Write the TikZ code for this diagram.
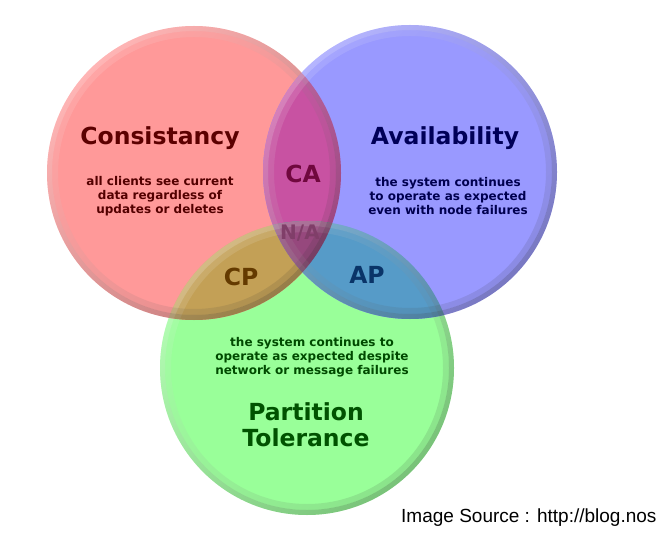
\documentclass[tikz,border=0pt]{standalone}
\usepackage{fontspec}
\setmainfont{DejaVu Sans}
\newfontfamily\srcfont{Liberation Sans}
\usetikzlibrary{positioning}

\definecolor{fillC}{RGB}{255,153,153}
\definecolor{fillA}{RGB}{153,153,255}
\definecolor{fillP}{RGB}{153,255,153}
\definecolor{fillCA}{RGB}{200,82,162}
\definecolor{fillCP}{RGB}{195,160,86}
\definecolor{fillAP}{RGB}{86,155,200}
\definecolor{fillNA}{RGB}{150,72,125}
\definecolor{inkC}{RGB}{92,0,0}
\definecolor{inkA}{RGB}{0,0,88}
\definecolor{inkP}{RGB}{0,82,0}
\definecolor{inkCA}{RGB}{112,8,62}
\definecolor{inkNA}{RGB}{128,62,105}
\definecolor{inkCP}{RGB}{100,58,0}
\definecolor{inkAP}{RGB}{10,52,104}

\begin{document}
\begin{tikzpicture}[x=1pt, y=-1pt,
    title/.style={font=\fontsize{23.5}{26}\selectfont\bfseries, align=center, inner sep=0pt},
    blurb/.style={font=\fontsize{12}{14}\selectfont\bfseries, align=center, inner sep=0pt},
    rim/.style={even odd rule, top color=white, bottom color=black!85, shading angle=45}
]
    \useasboundingbox (0,0) rectangle (658,537);

    % CIRCLE CENTRES
    \coordinate (cC) at (194,173);
    \coordinate (cA) at (410,172);
    \coordinate (cP) at (307,368);

    % FILLS
    \fill[fillP] (cP) circle[radius=147];
    \fill[fillC] (cC) circle[radius=147];
    \fill[fillA] (cA) circle[radius=147];
    \begin{scope}
        \clip (cC) circle[radius=147];
        \fill[fillCA] (cA) circle[radius=147];
        \fill[fillCP] (cP) circle[radius=147];
    \end{scope}
    \begin{scope}
        \clip (cA) circle[radius=147];
        \fill[fillAP] (cP) circle[radius=147];
    \end{scope}
    \begin{scope}
        \clip (cC) circle[radius=147];
        \clip (cA) circle[radius=147];
        \fill[fillNA] (cP) circle[radius=147];
    \end{scope}

    % RIMS
    \shade[rim, opacity=0.28] (cP) circle[radius=147] (cP) circle[radius=142];
    \shade[rim, opacity=0.12] (cP) circle[radius=142] (cP) circle[radius=136];
    \shade[rim, opacity=0.28] (cC) circle[radius=147] (cC) circle[radius=142];
    \shade[rim, opacity=0.12] (cC) circle[radius=142] (cC) circle[radius=136];
    \shade[rim, opacity=0.28] (cA) circle[radius=147] (cA) circle[radius=142];
    \shade[rim, opacity=0.12] (cA) circle[radius=142] (cA) circle[radius=136];

    % TITLES
    \node (cons) [title, text=inkC] at (160,138) {Consistancy};
    \node (avail) [title, text=inkA] at (445,138) {Availability};
    \node (part) [title, text=inkP] at (306,425) {Partition\\Tolerance};
    \node (ca) [title, text=inkCA] at (303,174) {CA};
    \node (na) [title, text=inkNA, font=\fontsize{20}{22}\selectfont\bfseries] at (300,233) {N/A};
    \node (cp) [title, text=inkCP] at (241,277) {CP};
    \node (ap) [title, text=inkAP] at (367,275) {AP};

    % DESCRIPTIONS
    \node (consText) [blurb, text=inkC!90!black] at (160,196) {all clients see current\\data regardless of\\updates or deletes};
    \node (availText) [blurb, text=inkA!90!black] at (448,196) {the system continues\\to operate as expected\\even with node failures};
    \node (partText) [blurb, text=inkP!90!black] at (312,357) {the system continues to\\operate as expected despite\\network or message failures};

    % SOURCE
    \node (source) [anchor=base west, inner sep=0pt, font=\srcfont\fontsize{19}{22}\selectfont] at (401,522) {Image Source : http://blog.nos};
\end{tikzpicture}
\end{document}
